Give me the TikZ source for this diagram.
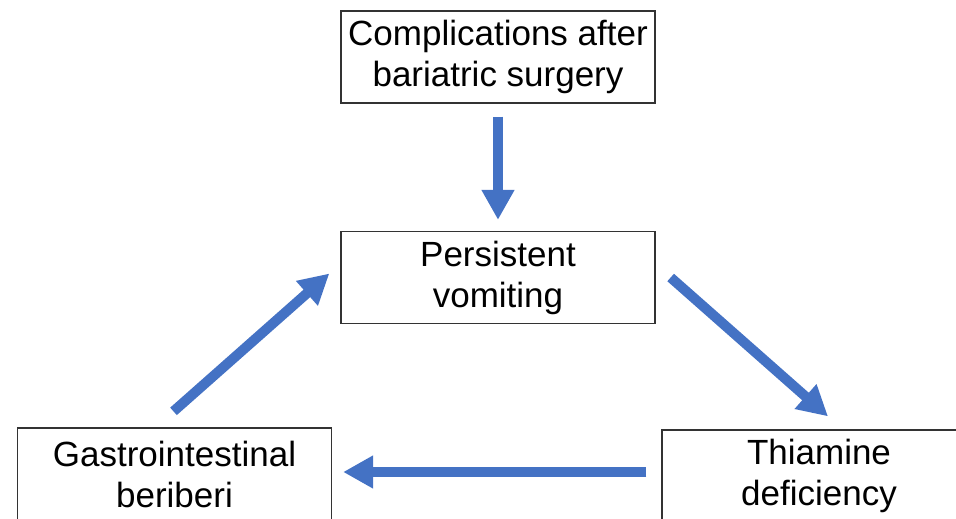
\documentclass[tikz,border=0pt]{standalone}
\usepackage{fontspec}
\setmainfont{Liberation Sans}
\usetikzlibrary{arrows.meta}
\definecolor{flowblue}{RGB}{68,114,196}
\tikzset{
  box/.style={draw=black!80, line width=1.3pt, minimum width=314pt, minimum height=92pt,
    align=center, inner sep=0pt, font=\fontsize{35}{41}\selectfont},
  flow/.style={-{Triangle[length=30pt,width=31pt]}, line width=10pt, flowblue}
}
\begin{document}
\begin{tikzpicture}[x=1pt,y=1pt]
\clip (0,0) rectangle (956,-519);
\node[box] (compl) at (498,-57) {Complications after\\bariatric surgery};
\node[box] (persist) at (498,-277.5) {Persistent\\vomiting};
\node[box] (gastro) at (174.5,-474) {Gastrointestinal\\beriberi};
\node[box] (thiamine) at (819,-476) {Thiamine\\deficiency};
% arrows of the cycle
\draw[flow] ([yshift=-13]compl.south) -- ([yshift=11]persist.north);
\draw[flow] ([shift={(15,0)}]persist.east) -- ([shift={(9,13)}]thiamine.north);
\draw[flow] ([shift={(-15,4)}]thiamine.west) -- ([shift={(11,2)}]gastro.east);
\draw[flow] ([shift={(-1,16)}]gastro.north) -- ([shift={(-11,4)}]persist.west);
\end{tikzpicture}
\end{document}
